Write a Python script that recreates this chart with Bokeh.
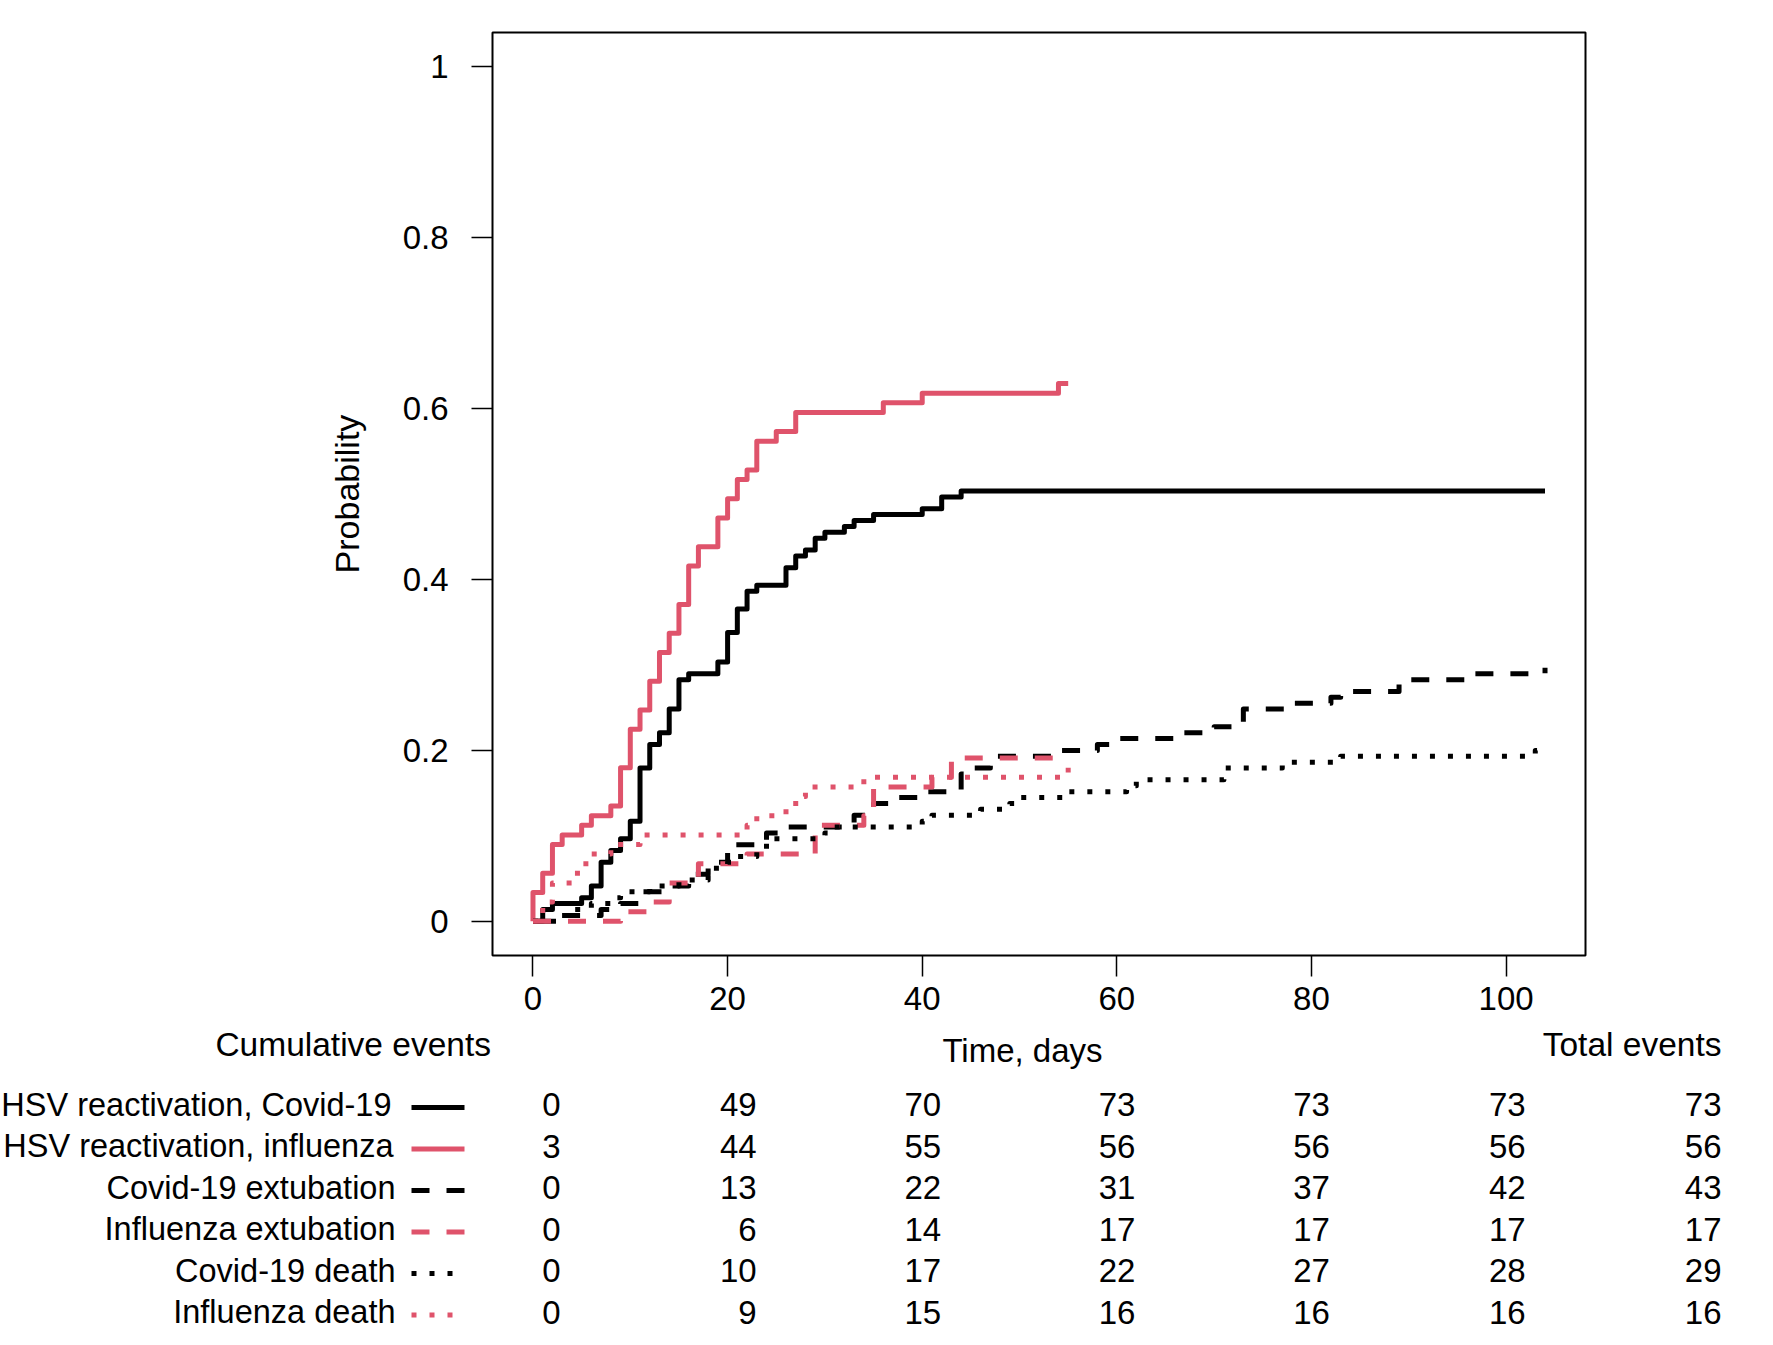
from bokeh.plotting import figure
from bokeh.models import Range1d, FixedTicker, ColumnDataSource
from bokeh.layouts import column
from bokeh.embed import file_html
from bokeh.resources import INLINE
from bokeh.core.properties import value

# ---------------- data ----------------
hsv_covid_t = [0, 1, 2, 5, 6, 7, 8, 9, 10, 11, 12, 13, 14, 15, 16, 19, 20, 21, 22, 23,
               26, 27, 28, 29, 30, 32, 33, 35, 40, 42, 44, 104]
hsv_covid_p = [0, 0.0138, 0.0207, 0.0276, 0.0414, 0.069, 0.0828, 0.0966, 0.1172, 0.1793,
               0.2069, 0.2207, 0.2483, 0.2828, 0.2897, 0.3034, 0.3379, 0.3655, 0.3862, 0.3931,
               0.4138, 0.4276, 0.4345, 0.4483, 0.4552, 0.4621, 0.469, 0.4759, 0.4828, 0.4966,
               0.5034, 0.5034]

hsv_flu_t = [0, 0, 1, 2, 3, 5, 6, 8, 9, 10, 11, 12, 13, 14, 15, 16, 17, 19, 20, 21, 22, 23,
             25, 27, 36, 40, 54, 55]
hsv_flu_p = [0, 0.0337, 0.0562, 0.0899, 0.1011, 0.1124, 0.1236, 0.1348, 0.1798, 0.2247,
             0.2472, 0.2809, 0.3146, 0.3371, 0.3708, 0.4157, 0.4382, 0.4719, 0.4944, 0.5169,
             0.5281, 0.5618, 0.5730, 0.5955, 0.6067, 0.6180, 0.6292, 0.6292]

covid_ext_t = [0, 2, 7, 9, 11, 14, 16, 18, 20, 24, 26, 33, 35, 37, 40, 44, 45, 47, 54, 58,
               60, 66, 70, 73, 78, 82, 83, 89, 96, 104]
covid_ext_p = [0, 0.0069, 0.0138, 0.0207, 0.0345, 0.0414, 0.0552, 0.069, 0.0897, 0.1034,
               0.1103, 0.1241, 0.1379, 0.1448, 0.1517, 0.1724, 0.1793, 0.1931, 0.2, 0.2069,
               0.2138, 0.2207, 0.2276, 0.2483, 0.2552, 0.2621, 0.269, 0.2828, 0.2897, 0.2966]

flu_ext_t = [0, 9, 12, 14, 17, 22, 29, 34, 35, 41, 43, 55]
flu_ext_p = [0, 0.0112, 0.0225, 0.0449, 0.0674, 0.0787, 0.1124, 0.1236, 0.1573, 0.1685,
             0.1910, 0.1910]

covid_death_t = [0, 3, 4, 6, 8, 9, 12, 15, 18, 20, 21, 23, 24, 30, 31, 40, 41, 46, 49, 50,
                 55, 61, 62, 71, 77, 83, 103, 104]
covid_death_p = [0, 0.0069, 0.0138, 0.0207, 0.0276, 0.0345, 0.0414, 0.0483, 0.0621, 0.069,
                 0.0759, 0.0828, 0.0966, 0.1034, 0.1103, 0.1172, 0.1241, 0.131, 0.1379, 0.1448,
                 0.1517, 0.1586, 0.1655, 0.1793, 0.1862, 0.1931, 0.2, 0.2]

flu_death_t = [0, 1, 2, 4, 5, 6, 8, 11, 22, 23, 26, 27, 28, 34, 55]
flu_death_p = [0, 0.0225, 0.0449, 0.0562, 0.0674, 0.0787, 0.0899, 0.1011, 0.1124, 0.1236,
               0.1348, 0.1461, 0.1573, 0.1685, 0.1798]

series_labels = ["HSV reactivation, Covid-19", "HSV reactivation, influenza",
                 "Covid-19 extubation", "Influenza extubation",
                 "Covid-19 death", "Influenza death"]

time_ticks = [0, 20, 40, 60, 80, 100]
prob_ticks = [0, 0.2, 0.4, 0.6, 0.8, 1]
prob_tick_labels = ["0", "0.2", "0.4", "0.6", "0.8", "1"]

cum_hsv_covid = [0, 49, 70, 73, 73, 73]
cum_hsv_flu = [3, 44, 55, 56, 56, 56]
cum_covid_ext = [0, 13, 22, 31, 37, 42]
cum_flu_ext = [0, 6, 14, 17, 17, 17]
cum_covid_death = [0, 10, 17, 22, 27, 28]
cum_flu_death = [0, 9, 15, 16, 16, 16]
total_events = [73, 56, 43, 17, 29, 16]

# ---------------- styling / layout ----------------
RED = "#DF536B"
FONT = "Liberation Sans"
FS = "33px"
FS_ROW = "32.5px"
FS_HEAD = "33.5px"
LW = 5
DASHED = "18 17"
DOTTED = "5 13"

W = 1740
FL, FT, FW, FH = 492, 32, 1093, 923
BOTTOM_A = 70
HA = FT + FH + BOTTOM_A
HB = 318
xmin, xmax = -4.16, 108.16
ymin, ymax = -0.04, 1.04
TEXT_DY = -12.4   # text rendering offset correction (pixels)

series = [
    (hsv_covid_t, hsv_covid_p, "black", "solid", cum_hsv_covid),
    (hsv_flu_t, hsv_flu_p, RED, "solid", cum_hsv_flu),
    (covid_ext_t, covid_ext_p, "black", DASHED, cum_covid_ext),
    (flu_ext_t, flu_ext_p, RED, DASHED, cum_flu_ext),
    (covid_death_t, covid_death_p, "black", DOTTED, cum_covid_death),
    (flu_death_t, flu_death_p, RED, DOTTED, cum_flu_death),
]

# ---------------- main plot ----------------
p = figure(width=W, height=HA, x_range=Range1d(xmin, xmax), y_range=Range1d(ymin, ymax),
           output_backend="svg", toolbar_location=None, title_location=None,
           min_border_left=FL, min_border_right=W - FL - FW,
           min_border_top=FT, min_border_bottom=BOTTOM_A)
p.frame_align = False
p.grid.visible = False
p.outline_line_color = "black"
p.outline_line_width = 2
p.outline_line_alpha = 1.0
p.background_fill_color = "white"
p.border_fill_color = "white"

for t, pr, col, dash, _ in series:
    p.step(x=t, y=pr, mode="after", line_color=col, line_width=LW,
           line_dash=dash, line_join="round", line_cap="butt")

p.xaxis.ticker = FixedTicker(ticks=time_ticks)
p.yaxis.ticker = FixedTicker(ticks=prob_ticks)
p.yaxis.major_label_overrides = {t: l for t, l in zip(prob_ticks, prob_tick_labels)}
for ax in (p.xaxis[0], p.yaxis[0]):
    ax.axis_line_color = None
    ax.major_tick_out = 21
    ax.major_tick_in = 0
    ax.major_tick_line_color = "black"
    ax.major_tick_line_width = 1.5
    ax.minor_tick_line_color = None
    ax.major_label_text_font = FONT
    ax.major_label_text_font_size = FS
    ax.major_label_text_color = "black"
p.xaxis.major_label_standoff = 10
p.yaxis.major_label_standoff = 23
p.yaxis.major_label_orientation = "horizontal"
p.yaxis.axis_label = "Probability"
p.yaxis.axis_label_text_font = FONT
p.yaxis.axis_label_text_font_size = "34px"
p.yaxis.axis_label_text_font_style = "normal"
p.yaxis.axis_label_text_color = "black"
p.yaxis.axis_label_standoff = 34

# ---------------- risk table ----------------
ppd = FW / (xmax - xmin)


def page_to_day(px):
    return xmin + (px - FL) / ppd


def page_to_b(py):
    return py - HA


def text_y(baseline_py):
    return page_to_b(baseline_py + TEXT_DY)


q = figure(width=W, height=HB, x_range=Range1d(page_to_day(0), page_to_day(W)),
           y_range=Range1d(HB, 0), output_backend="svg", toolbar_location=None,
           title_location=None, x_axis_type=None, y_axis_type=None,
           min_border_left=0, min_border_right=0, min_border_top=0, min_border_bottom=0)
q.frame_align = False
q.grid.visible = False
q.outline_line_color = None
q.background_fill_color = "white"
q.border_fill_color = "white"

base = dict(text_font=value(FONT), text_color="black", text_baseline="alphabetic")
head_baseline = 1056.5
q.text(x=[page_to_day(490.5)], y=[text_y(head_baseline)], text=["Cumulative events"],
       text_align="right", text_font_size=FS_HEAD, **base)
q.text(x=[page_to_day(1721)], y=[text_y(head_baseline)], text=["Total events"],
       text_align="right", text_font_size=FS_HEAD, **base)
q.text(x=[page_to_day(1022)], y=[text_y(1062)], text=["Time, days"],
       text_align="center", text_font_size=FS, **base)

row_centers = [1105, 1146.5, 1188, 1229.5, 1271, 1312.5]
label_right = [391, 393, 395, 395, 395, 395]
cap_half = 11.8
col_offsets = [27.5, 29, 19, 18.5, 18.5, 19.5]

xs, ys, texts, offs = [], [], [], []
for i, (t, pr, col, dash, cum) in enumerate(series):
    yb = text_y(row_centers[i] + cap_half)
    q.text(x=[page_to_day(label_right[i])], y=[yb], text=[series_labels[i]],
           text_align="right", text_font_size=FS_ROW, **base)
    yl = page_to_b(row_centers[i] + 2)
    q.line(x=[page_to_day(411), page_to_day(464)], y=[yl, yl], line_color=col,
           line_width=LW, line_dash=dash, line_cap="butt")
    for c, n in enumerate(cum):
        xs.append(time_ticks[c])
        ys.append(yb)
        texts.append(str(n))
        offs.append(col_offsets[c])
    xs.append(page_to_day(1721))
    ys.append(yb)
    texts.append(str(total_events[i]))
    offs.append(0)

src = ColumnDataSource(dict(x=xs, y=ys, text=texts, off=offs))
q.text(x="x", y="y", text="text", x_offset="off", source=src, text_align="right",
       text_font_size=FS, **base)

layout = column(p, q)
open("out.html", "w").write(file_html(layout, INLINE))
